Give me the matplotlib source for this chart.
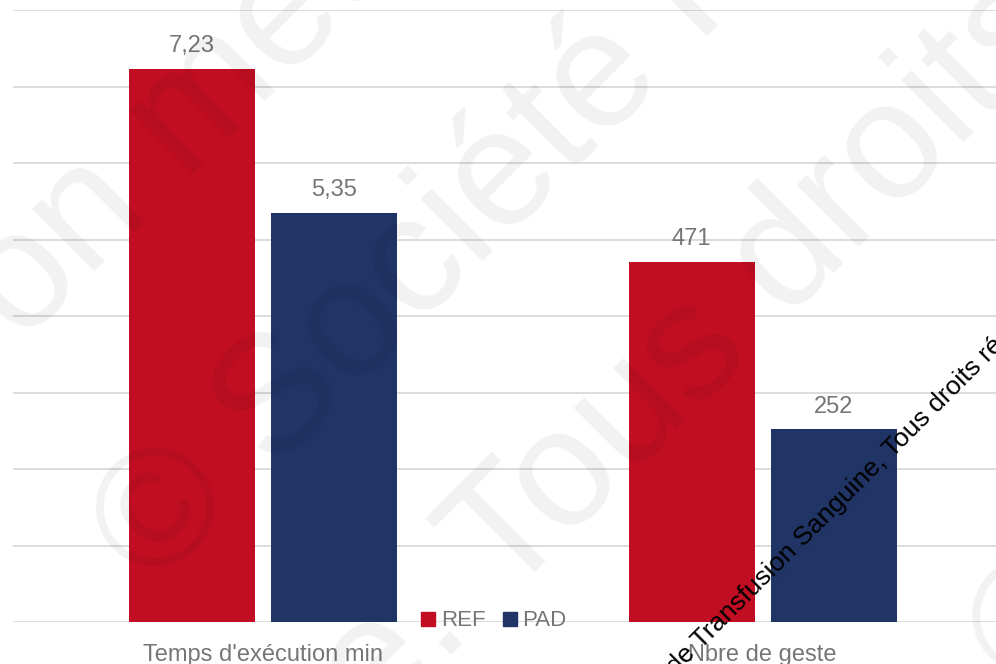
import matplotlib.pyplot as plt
from matplotlib.lines import Line2D
import numpy as np

plt.rcParams['font.family'] = ['Liberation Sans', 'DejaVu Sans']

categories = ["Temps d'exécution min", "Nbre de geste"]
series = ['REF', 'PAD']
temps = [7.23, 5.35]     # left scale (0-8)
gestes = [471, 252]      # right scale (0-800)
colors = ['#c10e22', '#203466']
label_color = '#767676'

W, H = 996, 664
fig = plt.figure(figsize=(W / 100, H / 100), dpi=100)
ax = fig.add_axes([13 / W, 42 / H, 999.5 / W, 612 / H])
ax2 = ax.twinx()

width = 0.252
offsets = [-0.142, 0.142]

for i, name in enumerate(series):
    ax.bar(0 + offsets[i], temps[i], width, color=colors[i], zorder=3)
    ax2.bar(1 + offsets[i], gestes[i], width, color=colors[i], zorder=3)
    ax.annotate(f'{temps[i]:.2f}'.replace('.', ','), (0 + offsets[i], temps[i]),
                xytext=(0, 12), textcoords='offset points', ha='center',
                va='baseline', fontsize=17, color=label_color)
    ax2.annotate(f'{gestes[i]}', (1 + offsets[i], gestes[i]),
                 xytext=(0, 12), textcoords='offset points', ha='center',
                 va='baseline', fontsize=17, color=label_color)

ax.set_xlim(-0.5, 1.5)
ax.set_ylim(0, 8)
ax2.set_ylim(0, 800)
ax.set_yticks(np.arange(0, 9, 1))
ax.yaxis.grid(True, color='#d9d9d9', linewidth=1.3)
ax.set_axisbelow(True)
ax.tick_params(axis='y', left=False, labelleft=False)
ax2.set_yticks([])
ax.set_xticks([0, 1])
ax.set_xticklabels(categories, fontsize=17, color=label_color)
ax.tick_params(axis='x', length=0, pad=16)
for a in (ax, ax2):
    for s in a.spines.values():
        s.set_visible(False)

handles = [Line2D([], [], marker='s', linestyle='none', markersize=9.5,
                  markerfacecolor=c, markeredgecolor=c) for c in colors]
fig.legend(handles, series, loc='center', bbox_to_anchor=(494 / W, 1 - 621 / H),
           ncol=2, frameon=False, fontsize=16, labelcolor=label_color,
           handlelength=0.6, handletextpad=0.25, columnspacing=0.8)


def px(x, y):
    return x / W, 1 - y / H


# watermark, big light text at 45 degrees
wm = dict(rotation=45, rotation_mode='anchor', ha='left', va='baseline',
          fontsize=120, color='black', alpha=0.055)
fig.text(*px(22, 345), 'on médicale', **wm)
fig.text(*px(153, 591), '© Société Française', **wm)
fig.text(*px(-57, 1163), 'Sanguine. Tous droits réservés', **wm)
fig.text(*px(1030, 700), '© Société', **wm)

# small black copyright line
fig.text(*px(588, 762), 'Française de Transfusion Sanguine, Tous droits réservés',
         rotation=45, rotation_mode='anchor', ha='left', va='baseline',
         fontsize=19, color='black')

fig.savefig('out.png', dpi=100)
